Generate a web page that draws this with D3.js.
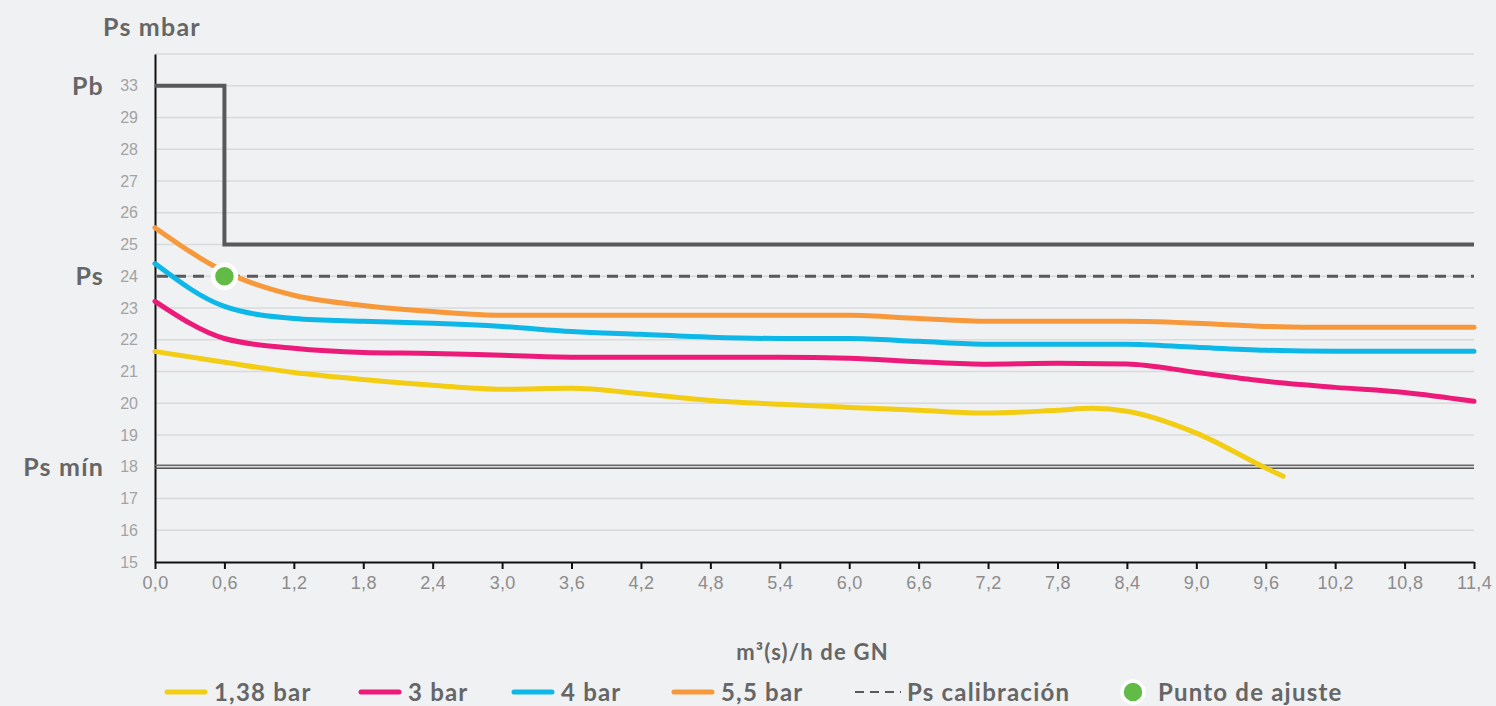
<!DOCTYPE html>
<html>
<head>
<meta charset="utf-8">
<script src="https://cdn.jsdelivr.net/npm/d3@7"></script>
<style>
  html, body { margin: 0; padding: 0; background: #f0f1f3; }
  svg { display: block; font-family: Lato, "Open Sans", sans-serif; }
</style>
</head>
<body>
<div id="chart"></div>
<script>
// ---- data ----
var flowX = [0, 0.6, 1.2, 1.8, 2.4, 3.0, 3.6, 4.2, 4.8, 5.4, 6.0, 6.6, 7.2, 7.8, 8.4, 9.0, 9.6, 10.2, 10.8, 11.4];

var bar3 = [23.21, 22.04, 21.73, 21.6, 21.57, 21.51, 21.45, 21.45, 21.45, 21.45, 21.42, 21.31, 21.23, 21.26, 21.24, 20.97, 20.69, 20.5, 20.34, 20.06];
var bar4 = [24.4, 23.05, 22.67, 22.58, 22.52, 22.42, 22.26, 22.17, 22.08, 22.04, 22.04, 21.95, 21.86, 21.86, 21.86, 21.76, 21.67, 21.64, 21.64, 21.64];
var bar55 = [25.53, 24.15, 23.4, 23.08, 22.89, 22.77, 22.77, 22.77, 22.77, 22.77, 22.77, 22.67, 22.58, 22.58, 22.58, 22.52, 22.42, 22.39, 22.39, 22.39];

var bar138X = [0, 0.6, 1.2, 1.8, 2.4, 3.0, 3.6, 4.2, 4.8, 5.4, 6.0, 6.6, 7.2, 7.8, 8.1, 8.4, 9.0, 9.6, 9.75];
var bar138 = [21.63, 21.29, 20.97, 20.75, 20.57, 20.44, 20.47, 20.3, 20.09, 19.97, 19.87, 19.78, 19.69, 19.78, 19.84, 19.75, 19.06, 17.96, 17.7];

var pbX = [0, 0.6, 11.4];
var pbY = [33, 25, 25];

var psCal = 24;
var psMin = 18;
var ajuste = [0.6, 24];

var yTicks = [15, 16, 17, 18, 19, 20, 21, 22, 23, 24, 25, 26, 27, 28, 29, 33];
var xTicks = [0, 0.6, 1.2, 1.8, 2.4, 3.0, 3.6, 4.2, 4.8, 5.4, 6.0, 6.6, 7.2, 7.8, 8.4, 9.0, 9.6, 10.2, 10.8, 11.4];

var legendLabels = ["1,38 bar", "3 bar", "4 bar", "5,5 bar", "Ps calibración", "Punto de ajuste"];

// ---- layout ----
var W = 1496, H = 706;
var plotL = 155, plotR = 1474, plotT = 54, plotB = 562;
var unit = (plotB - plotT) / 16;

var colors = { y: "#f2cd14", p: "#ec1b7a", b: "#0db8e8", o: "#f7993a", g: "#58595b", dot: "#62bb46" };

var svg = d3.select("#chart").append("svg")
    .attr("width", W)
    .attr("height", H);

var x = d3.scaleLinear().domain([0, 11.4]).range([plotL, plotR]);
// broken axis: 29 -> 33 takes a single step
var y = d3.scaleLinear()
    .domain([15, 29, 33, 37])
    .range([plotB, plotB - 14 * unit, plotB - 15 * unit, plotT]);

///////// grid

svg.append("g")
    .selectAll("line")
    .data(yTicks.slice(1).concat([37]))
  .enter().append("line")
    .attr("x1", plotL).attr("x2", plotR)
    .attr("y1", function (d) { return y(d); })
    .attr("y2", function (d) { return y(d); })
    .attr("stroke", "#d9dadc")
    .attr("stroke-width", 1.5);

///////// axes

var fmtX = function (d) { return d3.format(".1f")(d).replace(".", ","); };

var gX = svg.append("g")
    .attr("transform", "translate(0," + plotB + ")")
    .call(d3.axisBottom(x).tickValues(xTicks).tickFormat(fmtX).tickSize(7).tickSizeOuter(0).tickPadding(7));
gX.select(".domain").attr("stroke", "#111").attr("stroke-width", 2);
gX.selectAll(".tick line").attr("stroke", "#111").attr("stroke-width", 2);
gX.selectAll("text").attr("fill", "#8c8c8c").style("font-size", "18px").style("letter-spacing", "0.3px");

var gY = svg.append("g")
    .attr("transform", "translate(" + plotL + ",0)")
    .call(d3.axisLeft(y).tickValues(yTicks).tickSize(0).tickPadding(17));
gY.select(".domain").attr("stroke", "#111").attr("stroke-width", 2);
gY.selectAll("text").attr("fill", "#a3a3a3").style("font-size", "16px");

///////// reference lines

svg.append("line")
    .attr("x1", x(0)).attr("x2", x(11.4))
    .attr("y1", y(psMin) - 1.5).attr("y2", y(psMin) - 1.5)
    .attr("stroke", "#6a6a6a").attr("stroke-width", 1.6);
svg.append("line")
    .attr("x1", x(0)).attr("x2", x(11.4))
    .attr("y1", y(psMin) + 1.5).attr("y2", y(psMin) + 1.5)
    .attr("stroke", "#555").attr("stroke-width", 1.6);

svg.append("line")
    .attr("x1", x(0) + 2).attr("x2", x(11.4))
    .attr("y1", y(psCal)).attr("y2", y(psCal))
    .attr("stroke", colors.g).attr("stroke-width", 3)
    .attr("stroke-dasharray", "11,7");

svg.append("path")
    .datum(d3.zip(pbX, pbY))
    .attr("fill", "none")
    .attr("stroke", colors.g)
    .attr("stroke-width", 4)
    .attr("d", d3.line().curve(d3.curveStepAfter)
      .x(function (d) { return x(d[0]); })
      .y(function (d) { return y(d[1]); }));

///////// curves

var line = d3.line()
    .curve(d3.curveMonotoneX)
    .x(function (d) { return x(d[0]); })
    .y(function (d) { return y(d[1]); });

var series = [
  { pts: d3.zip(bar138X, bar138), c: colors.y },
  { pts: d3.zip(flowX, bar3), c: colors.p },
  { pts: d3.zip(flowX, bar4), c: colors.b },
  { pts: d3.zip(flowX, bar55), c: colors.o }
];

svg.append("g")
    .selectAll("path")
    .data(series)
  .enter().append("path")
    .attr("fill", "none")
    .attr("stroke", function (d) { return d.c; })
    .attr("stroke-width", 5)
    .attr("stroke-linecap", "round")
    .attr("stroke-linejoin", "round")
    .attr("d", function (d) { return line(d.pts); });

svg.append("circle")
    .attr("cx", x(ajuste[0]))
    .attr("cy", y(ajuste[1]))
    .attr("r", 11.5)
    .attr("fill", colors.dot)
    .attr("stroke", "#fff")
    .attr("stroke-width", 4.5);

///////// labels

var bold = function (sel) {
  return sel.attr("fill", "#666").style("font-weight", "bold").style("letter-spacing", "1.2px");
};

bold(svg.append("text").attr("x", 103).attr("y", 36).style("font-size", "25px").text("Ps mbar"));

[["Pb", 33], ["Ps", psCal], ["Ps mín", psMin]].forEach(function (l) {
  bold(svg.append("text")
    .attr("x", 104)
    .attr("y", y(l[1]))
    .attr("dy", "0.36em")
    .attr("text-anchor", "end")
    .style("font-size", "25px")
    .text(l[0]));
});

bold(svg.append("text")
  .attr("x", (plotL + plotR) / 2 - 2)
  .attr("y", 660)
  .attr("text-anchor", "middle")
  .style("font-size", "22px")
  .text("m³(s)/h de GN"));

///////// legend

var legendX = [165, 359, 512, 672, 855, 1123];
var legendColors = [colors.y, colors.p, colors.b, colors.o];
var ly = 692;

var legend = svg.selectAll(".legend")
    .data(legendLabels)
  .enter().append("g")
    .attr("class", "legend")
    .attr("transform", function (d, i) { return "translate(" + legendX[i] + "," + ly + ")"; });

legend.each(function (d, i) {
  var g = d3.select(this);
  var tx;
  if (i < 4) {
    g.append("line").attr("x1", 2).attr("x2", 40)
      .attr("stroke", legendColors[i]).attr("stroke-width", 5).attr("stroke-linecap", "round");
    tx = 49;
  } else if (i === 4) {
    g.append("line").attr("x1", 0).attr("x2", 46)
      .attr("stroke", colors.g).attr("stroke-width", 2.2).attr("stroke-dasharray", "9,6");
    tx = 52;
  } else {
    g.append("circle").attr("cx", 10).attr("r", 11)
      .attr("fill", colors.dot).attr("stroke", "#fff").attr("stroke-width", 3.5);
    tx = 35;
  }
  bold(g.append("text").attr("x", tx).attr("dy", "0.36em").style("font-size", "24px").text(d));
});
</script>
</body>
</html>
